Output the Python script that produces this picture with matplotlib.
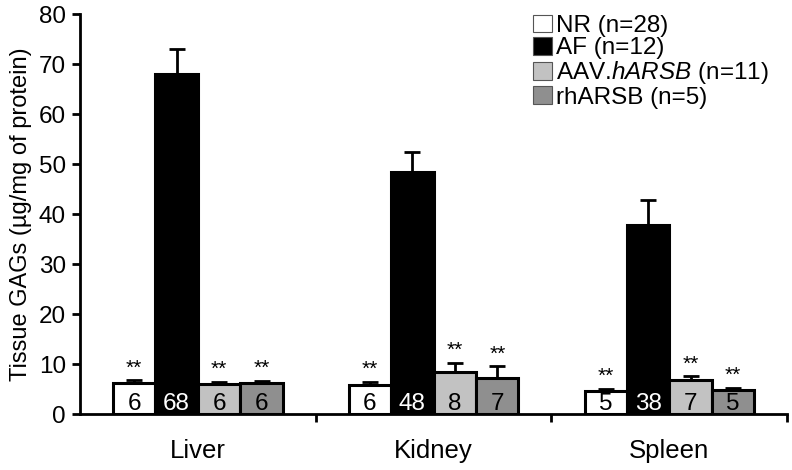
import numpy as np
import matplotlib
matplotlib.use('Agg')
import matplotlib.pyplot as plt
from matplotlib.patches import Patch

plt.rcParams['font.family'] = ['Liberation Sans', 'DejaVu Sans']
plt.rcParams['mathtext.fontset'] = 'custom'
plt.rcParams['mathtext.rm'] = 'Liberation Sans'
plt.rcParams['mathtext.it'] = 'Liberation Sans:italic'

tissues = ['Liver', 'Kidney', 'Spleen']
groups = ['NR (n=28)', 'AF (n=12)', r'AAV.$\mathit{hARSB}$ (n=11)', 'rhARSB (n=5)']
means = {
    'NR': [6.3, 5.9, 4.6],
    'AF': [68.0, 48.4, 37.8],
    'AAV': [6.1, 8.5, 6.8],
    'rh': [6.3, 7.3, 4.9],
}
errs = {
    'NR': [0.5, 0.6, 0.5],
    'AF': [5.0, 4.0, 5.0],
    'AAV': [0.4, 1.8, 0.8],
    'rh': [0.4, 2.3, 0.4],
}
bar_labels = {
    'NR': ['6', '6', '5'],
    'AF': ['68', '48', '38'],
    'AAV': ['6', '8', '7'],
    'rh': ['6', '7', '5'],
}
stars = {'NR': True, 'AF': False, 'AAV': True, 'rh': True}
colors = {'NR': 'white', 'AF': 'black', 'AAV': '#c2c2c2', 'rh': '#8f8f8f'}
text_colors = {'NR': 'black', 'AF': 'white', 'AAV': 'black', 'rh': 'black'}

fig = plt.figure(figsize=(7.92, 4.70), dpi=100)
ax = fig.add_axes([0.101, 0.119, 0.893, 0.851])

keys = ['NR', 'AF', 'AAV', 'rh']
width = 0.18
x = np.arange(len(tissues)) + 0.5
for i, k in enumerate(keys):
    pos = x + (i - 1.5) * width
    ax.bar(pos, means[k], width, color=colors[k], edgecolor='black', linewidth=2.2, zorder=3)
    ax.errorbar(pos, means[k], yerr=[np.zeros(3), errs[k]], fmt='none', ecolor='black',
                elinewidth=2, capsize=6, capthick=2, zorder=2)
    for j in range(3):
        ax.text(pos[j], 0.8, bar_labels[k][j], ha='center', va='baseline', fontsize=17.5,
                color=text_colors[k], zorder=4)
        if stars[k]:
            ax.text(pos[j], means[k][j] + errs[k][j] + 0.5, '**', ha='center', va='bottom',
                    fontsize=15, zorder=4)

ax.set_xlim(0, 3)
ax.set_ylim(0, 80)
ax.set_yticks(np.arange(0, 81, 10))
ax.set_xticks(x)
ax.set_xticklabels(tissues, fontsize=18.5)
ax.set_xticks([1, 2, 3], minor=True)
ax.tick_params(axis='x', which='major', length=0, pad=18)
ax.tick_params(axis='x', which='minor', length=6, width=2, direction='out')
ax.tick_params(axis='y', labelsize=17.5, length=6, width=2, direction='out', pad=4)
for s in ['top', 'right']:
    ax.spines[s].set_visible(False)
for s in ['left', 'bottom']:
    ax.spines[s].set_linewidth(2)
ax.set_ylabel('Tissue GAGs (µg/mg of protein)', fontsize=17, labelpad=5)

handles = [Patch(facecolor=colors[k], edgecolor='#555555', linewidth=0.8) for k in keys]
leg = ax.legend(handles, groups, loc='upper right', bbox_to_anchor=(0.995, 1.035), fontsize=17.5,
                frameon=False, handlelength=0.75, handleheight=0.75, handletextpad=0.2,
                labelspacing=0.0, borderaxespad=0.2)

fig.savefig('out.png', dpi=100)
